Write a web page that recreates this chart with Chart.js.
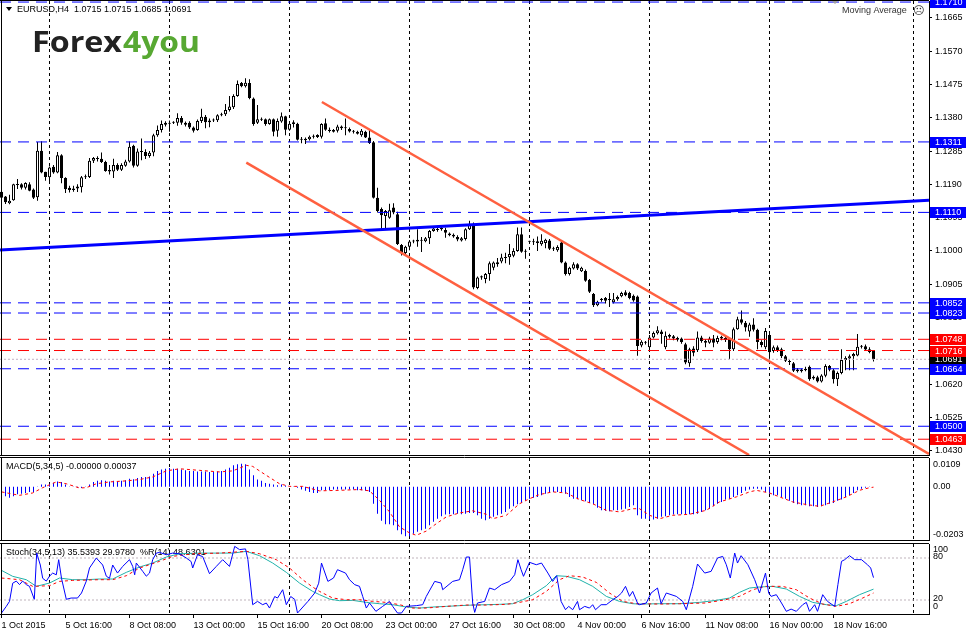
<!DOCTYPE html>
<html><head><meta charset="utf-8"><title>EURUSD,H4</title>
<script src="https://cdn.jsdelivr.net/npm/chart.js@4.4.1/dist/chart.umd.min.js"></script>
<style>
html,body{margin:0;padding:0;background:#fff;}
body{width:966px;height:631px;overflow:hidden;position:relative;}
.pane{position:absolute;left:0;width:966px;}
</style></head><body>
<div class="pane" style="top:0;height:456px"><canvas id="cMain"></canvas></div>
<div class="pane" style="top:456px;height:86px"><canvas id="cMacd"></canvas></div>
<div class="pane" style="top:542px;height:89px"><canvas id="cStoch"></canvas></div>
<script>
// ---------------- DATA ----------------
const symbolTitle = 'EURUSD,H4';
const open = [1.1169,1.1155,1.1136,1.1145,1.1190,1.1190,1.1180,1.1190,1.1175,1.1153,
1.1286,1.1226,1.1210,1.1240,1.1224,1.1273,1.1208,1.1180,1.1174,1.1178,
1.1182,1.1210,1.1211,1.1257,1.1265,1.1263,1.1254,1.1231,1.1227,1.1245,
1.1232,1.1243,1.1255,1.1300,1.1243,1.1284,1.1282,1.1271,1.1281,1.1330,
1.1345,1.1360,1.1363,1.1366,1.1366,1.1379,1.1366,1.1366,1.1352,1.1345,
1.1371,1.1383,1.1367,1.1372,1.1373,1.1387,1.1390,1.1402,1.1410,1.1442,
1.1479,1.1470,1.1479,1.1435,1.1366,1.1376,1.1376,1.1362,1.1376,1.1343,
1.1369,1.1384,1.1346,1.1367,1.1363,1.1317,1.1320,1.1319,1.1326,1.1325,
1.1326,1.1364,1.1346,1.1340,1.1343,1.1355,1.1350,1.1348,1.1341,1.1340,
1.1330,1.1340,1.1324,1.1310,1.1152,1.1120,1.1100,1.1095,1.1124,1.1105,
1.1017,1.0994,1.1012,1.1027,1.1027,1.1031,1.1028,1.1036,1.1057,1.1060,
1.1062,1.1060,1.1050,1.1046,1.1040,1.1030,1.1034,1.1062,1.1074,1.0894,
1.0924,1.0920,1.0934,1.0952,1.0962,1.0970,1.0980,1.0982,1.0986,1.1000,
1.1048,1.0998,1.1026,1.1027,1.1028,1.1019,1.1023,1.1030,1.1008,1.1002,
1.1024,1.0967,1.0934,1.0950,1.0962,1.0942,1.0943,1.0917,1.0877,1.0845,
1.0864,1.0866,1.0860,1.0854,1.0862,1.0871,1.0882,1.0880,1.0872,1.0870,
1.0730,1.0740,1.0725,1.0753,1.0765,1.0770,1.0725,1.0760,1.0757,1.0752,
1.0750,1.0734,1.0680,1.0722,1.0717,1.0753,1.0743,1.0738,1.0750,1.0740,
1.0755,1.0752,1.0748,1.0720,1.0777,1.0805,1.0795,1.0770,1.0790,1.0775,
1.0740,1.0725,1.0760,1.0715,1.0725,1.0720,1.0700,1.0685,1.0680,1.0662,
1.0657,1.0660,1.0670,1.0636,1.0640,1.0628,1.0644,1.0672,1.0660,1.0634,
1.0652,1.0689,1.0693,1.0700,1.0702,1.0727,1.0728,1.0720,1.0715];
const high = [1.1175,1.1157,1.1160,1.1192,1.1205,1.1193,1.1196,1.1196,1.1178,1.1311,
1.1313,1.1226,1.1241,1.1245,1.1282,1.1276,1.1210,1.1186,1.1186,1.1190,
1.1214,1.1218,1.1265,1.1268,1.1270,1.1281,1.1257,1.1245,1.1263,1.1250,
1.1250,1.1260,1.1312,1.1303,1.1292,1.1321,1.1290,1.1285,1.1334,1.1358,
1.1372,1.1370,1.1372,1.1370,1.1393,1.1385,1.1369,1.1370,1.1355,1.1375,
1.1406,1.1388,1.1378,1.1378,1.1390,1.1394,1.1419,1.1442,1.1447,1.1486,
1.1482,1.1493,1.1490,1.1438,1.1416,1.1381,1.1378,1.1378,1.1378,1.1378,
1.1395,1.1386,1.1368,1.1373,1.1366,1.1325,1.1324,1.1329,1.1332,1.1333,
1.1364,1.1378,1.1352,1.1348,1.1360,1.1358,1.1378,1.1352,1.1345,1.1343,
1.1348,1.1343,1.1345,1.1314,1.1180,1.1124,1.1117,1.1135,1.1136,1.1112,
1.1020,1.1015,1.1031,1.1032,1.1062,1.1040,1.1040,1.1060,1.1066,1.1066,
1.1070,1.1066,1.1053,1.1050,1.1045,1.1040,1.1065,1.1086,1.1081,1.0927,
1.0930,1.0937,1.0970,1.0970,1.0980,1.0992,1.0995,1.1020,1.1008,1.1067,
1.1067,1.1005,1.1029,1.1035,1.1041,1.1048,1.1035,1.1034,1.1012,1.1016,
1.1030,1.0970,1.0955,1.0968,1.0965,1.0955,1.0947,1.0920,1.0880,1.0858,
1.0866,1.0869,1.0880,1.0880,1.0873,1.0884,1.0888,1.0884,1.0876,1.0873,
1.0745,1.0743,1.0760,1.0770,1.0785,1.0775,1.0770,1.0764,1.0760,1.0755,
1.0753,1.0738,1.0724,1.0728,1.0770,1.0758,1.0748,1.0755,1.0760,1.0758,
1.0758,1.0756,1.0750,1.0782,1.0812,1.0830,1.0800,1.0795,1.0808,1.0778,
1.0745,1.0780,1.0765,1.0730,1.0730,1.0724,1.0703,1.0690,1.0683,1.0666,
1.0665,1.0670,1.0673,1.0645,1.0644,1.0648,1.0677,1.0675,1.0663,1.0656,
1.0720,1.0700,1.0705,1.0710,1.0763,1.0732,1.0733,1.0725,1.0715];
const low = [1.1149,1.1134,1.1133,1.1143,1.1177,1.1175,1.1175,1.1170,1.1148,1.1143,
1.1222,1.1200,1.1193,1.1220,1.1222,1.1193,1.1165,1.1167,1.1169,1.1168,
1.1167,1.1205,1.1208,1.1251,1.1255,1.1251,1.1226,1.1218,1.1208,1.1228,
1.1228,1.1240,1.1252,1.1238,1.1240,1.1259,1.1262,1.1266,1.1270,1.1326,
1.1338,1.1355,1.1340,1.1362,1.1357,1.1360,1.1355,1.1348,1.1338,1.1343,
1.1365,1.1350,1.1353,1.1368,1.1368,1.1384,1.1385,1.1398,1.1405,1.1440,
1.1467,1.1466,1.1433,1.1357,1.1362,1.1371,1.1357,1.1360,1.1327,1.1326,
1.1366,1.1330,1.1343,1.1352,1.1315,1.1307,1.1305,1.1315,1.1321,1.1322,
1.1321,1.1343,1.1338,1.1338,1.1338,1.1345,1.1330,1.1338,1.1335,1.1332,
1.1326,1.1322,1.1305,1.1150,1.1110,1.1060,1.1063,1.1092,1.1105,1.1017,
1.0987,1.0990,1.1002,1.1022,1.1012,1.0997,1.1025,1.1020,1.1055,1.1055,
1.1058,1.1038,1.1042,1.1038,1.1028,1.1027,1.1030,1.1060,1.0891,1.0891,
1.0918,1.0908,1.0915,1.0945,1.0955,1.0965,1.0965,1.0961,1.0982,1.0998,
1.0995,1.0978,1.1020,1.1017,1.1000,1.1015,1.1008,1.1003,1.1000,1.0998,
1.0965,1.0930,1.0930,1.0947,1.0946,1.0940,1.0912,1.0880,1.0840,1.0842,
1.0855,1.0850,1.0840,1.0850,1.0858,1.0868,1.0871,1.0862,1.0855,1.0701,
1.0725,1.0733,1.0720,1.0750,1.0762,1.0735,1.0720,1.0750,1.0745,1.0742,
1.0735,1.0677,1.0670,1.0700,1.0712,1.0738,1.0725,1.0735,1.0725,1.0735,
1.0745,1.0740,1.0692,1.0715,1.0775,1.0790,1.0770,1.0755,1.0770,1.0720,
1.0725,1.0720,1.0690,1.0710,1.0712,1.0695,1.0683,1.0675,1.0655,1.0653,
1.0653,1.0657,1.0630,1.0633,1.0625,1.0625,1.0640,1.0657,1.0622,1.0615,
1.0648,1.0660,1.0660,1.0660,1.0700,1.0722,1.0715,1.0708,1.0685];
const close = [1.1152,1.1139,1.1143,1.1190,1.1188,1.1180,1.1194,1.1172,1.1152,1.1286,
1.1224,1.1211,1.1238,1.1224,1.1273,1.1208,1.1176,1.1174,1.1178,1.1184,
1.1210,1.1213,1.1257,1.1265,1.1262,1.1254,1.1228,1.1227,1.1245,1.1232,
1.1245,1.1255,1.1297,1.1243,1.1284,1.1282,1.1271,1.1280,1.1330,1.1345,
1.1362,1.1366,1.1366,1.1367,1.1379,1.1366,1.1360,1.1352,1.1343,1.1371,
1.1383,1.1367,1.1372,1.1375,1.1387,1.1390,1.1402,1.1412,1.1442,1.1476,
1.1470,1.1480,1.1436,1.1362,1.1376,1.1374,1.1362,1.1376,1.1340,1.1371,
1.1384,1.1346,1.1363,1.1362,1.1317,1.1319,1.1316,1.1326,1.1327,1.1331,
1.1362,1.1346,1.1342,1.1345,1.1355,1.1350,1.1351,1.1341,1.1340,1.1334,
1.1343,1.1324,1.1308,1.1152,1.1114,1.1102,1.1114,1.1116,1.1110,1.1020,
1.0994,1.1012,1.1027,1.1029,1.1032,1.1029,1.1036,1.1057,1.1064,1.1063,
1.1066,1.1052,1.1045,1.1041,1.1033,1.1036,1.1062,1.1074,1.0896,1.0924,
1.0928,1.0934,1.0965,1.0967,1.0968,1.0981,1.0983,1.0991,1.1000,1.1048,
1.0998,1.1000,1.1027,1.1025,1.1023,1.1029,1.1032,1.1006,1.1005,1.1011,
1.0967,1.0934,1.0952,1.0962,1.0950,1.0952,1.0915,1.0884,1.0845,1.0855,
1.0860,1.0858,1.0861,1.0862,1.0869,1.0880,1.0874,1.0866,1.0859,1.0729,
1.0741,1.0738,1.0753,1.0766,1.0774,1.0763,1.0758,1.0755,1.0750,1.0747,
1.0740,1.0682,1.0720,1.0710,1.0753,1.0743,1.0738,1.0750,1.0738,1.0752,
1.0750,1.0746,1.0720,1.0777,1.0805,1.0795,1.0782,1.0790,1.0775,1.0740,
1.0732,1.0772,1.0711,1.0725,1.0716,1.0700,1.0687,1.0683,1.0658,1.0657,
1.0662,1.0664,1.0634,1.0641,1.0628,1.0645,1.0672,1.0661,1.0634,1.0652,
1.0689,1.0695,1.0700,1.0706,1.0727,1.0728,1.0719,1.0712,1.0691];

const macdHist = [-0.0029,-0.0037,-0.0042,-0.0037,-0.0029,-0.0027,-0.0024,-0.0020,-0.0020,0.0001,
0.0008,0.0008,0.0011,0.0015,0.0020,0.0018,0.0008,0.0001,-0.0001,-0.0004,
-0.0005,-0.0001,0.0008,0.0018,0.0022,0.0024,0.0022,0.0020,0.0022,0.0020,
0.0022,0.0024,0.0030,0.0028,0.0033,0.0037,0.0037,0.0039,0.0049,0.0060,
0.0065,0.0068,0.0071,0.0068,0.0068,0.0065,0.0062,0.0060,0.0060,0.0058,
0.0058,0.0058,0.0056,0.0056,0.0058,0.0060,0.0065,0.0072,0.0081,0.0085,
0.0087,0.0085,0.0065,0.0043,0.0027,0.0022,0.0014,0.0011,0.0008,0.0005,
0.0008,0.0004,0.0001,-0.0001,-0.0004,-0.0011,-0.0016,-0.0020,-0.0024,-0.0024,
-0.0014,-0.0014,-0.0014,-0.0011,-0.0011,-0.0011,-0.0011,-0.0011,-0.0011,-0.0014,
-0.0014,-0.0016,-0.0020,-0.0065,-0.0103,-0.0130,-0.0143,-0.0143,-0.0147,-0.0166,
-0.0181,-0.0189,-0.0189,-0.0179,-0.0172,-0.0166,-0.0160,-0.0147,-0.0134,-0.0122,
-0.0113,-0.0106,-0.0105,-0.0105,-0.0103,-0.0105,-0.0103,-0.0100,-0.0100,-0.0109,
-0.0122,-0.0128,-0.0122,-0.0115,-0.0109,-0.0103,-0.0096,-0.0084,-0.0075,-0.0067,
-0.0062,-0.0054,-0.0046,-0.0042,-0.0039,-0.0033,-0.0027,-0.0020,-0.0020,-0.0020,
-0.0020,-0.0027,-0.0039,-0.0046,-0.0048,-0.0052,-0.0056,-0.0062,-0.0067,-0.0080,
-0.0090,-0.0092,-0.0094,-0.0090,-0.0090,-0.0087,-0.0084,-0.0077,-0.0071,-0.0109,
-0.0122,-0.0122,-0.0125,-0.0125,-0.0122,-0.0115,-0.0113,-0.0109,-0.0106,-0.0105,
-0.0105,-0.0105,-0.0105,-0.0105,-0.0103,-0.0096,-0.0090,-0.0084,-0.0075,-0.0065,
-0.0058,-0.0049,-0.0046,-0.0039,-0.0033,-0.0024,-0.0016,-0.0011,-0.0008,-0.0008,
-0.0011,-0.0020,-0.0027,-0.0033,-0.0033,-0.0039,-0.0046,-0.0054,-0.0062,-0.0067,
-0.0071,-0.0071,-0.0075,-0.0075,-0.0077,-0.0075,-0.0071,-0.0065,-0.0062,-0.0054,
-0.0049,-0.0039,-0.0033,-0.0024,-0.0014,-0.0008,-0.0004,-0.0001,0.0000];

const macdSignal = [[0,-0.0020],[4.5,-0.0033],[7.8,-0.0024],[10.3,-0.0004],[13.7,0.0018],[16.2,0.0011],[19.5,-0.0005],[21.2,-0.0004],[23.7,0.0011],[27,0.0018],[31.2,0.0022],[34.5,0.0027],[37.8,0.0037],[41.2,0.0060],[44.5,0.0068],[49.5,0.0062],[54.5,0.0056],[57.8,0.0060],[61.2,0.0081],[62.8,0.0077],[66.2,0.0043],[69.5,0.0011],[72,0.0001],[75.3,0.0001],[79.5,-0.0016],[84.5,-0.0014],[89.5,-0.0011],[92,-0.0016],[94.5,-0.0052],[97,-0.0096],[99.5,-0.0153],[102,-0.0176],[103.7,-0.0185],[106.2,-0.0169],[108.7,-0.0141],[111.2,-0.0115],[114.5,-0.0100],[117.8,-0.0092],[121.2,-0.0105],[122.8,-0.0122],[126.2,-0.0109],[129.5,-0.0065],[132,-0.0046],[134.5,-0.0030],[137.8,-0.0020],[141.2,-0.0024],[144.5,-0.0049],[147.8,-0.0065],[151.2,-0.0090],[154.5,-0.0096],[157.8,-0.0084],[159.5,-0.0084],[162,-0.0109],[164.5,-0.0122],[167.8,-0.0109],[172,-0.0105],[176.2,-0.0090],[179.5,-0.0058],[183.7,-0.0039],[187,-0.0020],[188.7,-0.0014],[192,-0.0024],[194.5,-0.0039],[197.8,-0.0058],[201.2,-0.0068],[204.5,-0.0075],[207.8,-0.0058],[211.2,-0.0039],[214.5,-0.0014],[217,-0.0004],[218,-0.0002]];

const stochMain = [[0,62.3],[2.8,53.8],[6.2,49],[8.7,39.5],[12,44.2],[14.5,51.4],[17.8,49],[21.2,49],[24.5,50],[27.8,50],[31.2,59.5],[34.5,67.1],[37.8,72.8],[41.2,81.4],[44.5,86.1],[49.5,87],[54.5,87],[57.8,87],[61.2,89.5],[64.5,83.3],[67.8,72.8],[71.2,59.5],[74.5,44.2],[77.8,32.3],[79.5,27.6],[82,21.4],[84.5,19],[87.8,19.5],[91.2,16.6],[94.5,14.7],[97.8,13.3],[101.2,10],[104.5,8.5],[107.8,10],[111.2,10.9],[114.5,11.9],[117.8,12.8],[121.2,13.3],[124.5,13.8],[127.8,14.7],[130.3,20.4],[132.8,27.6],[136.2,40.4],[138.7,54.7],[141.2,53.8],[144.5,49],[147.8,39.5],[151.2,25.2],[154.5,18],[157.8,14.7],[159.5,14.2],[164.5,14.7],[169.5,14.7],[174.5,16.6],[178.7,19.5],[182,22.8],[184.5,30.9],[187,37.1],[189.5,38.6],[192.8,39.5],[196.2,35.7],[199.5,25.2],[202.8,16.6],[206.2,13.3],[208.7,11.9],[211.2,18],[214.5,27.6],[218,35.5]];

const stochSignal = [[0,51.4],[4.5,49],[7.8,39.5],[12,40.4],[14.5,46.6],[17.8,48],[24.5,49],[27.8,49],[31.2,54.7],[34.5,65.7],[39.5,75.2],[42.8,82.3],[47.8,86.1],[54.5,87],[61.2,89.5],[64.5,86.1],[68.7,77.6],[72,65.7],[75.3,49],[77.8,38.5],[79.5,32.3],[82.8,22.8],[86.2,20.4],[89.5,20.4],[92.8,18],[96.2,16.6],[99.5,13.3],[102.8,8.5],[106.2,8.5],[111.2,10.9],[116.2,12.8],[121.2,12.8],[126.2,13.8],[129.5,16.6],[132.8,20.4],[136.2,32.3],[139.5,49],[142,54.7],[145.3,52.8],[148.7,45.2],[152,30],[155.3,18],[158.7,14.7],[164.5,14.2],[169.5,14.7],[176,15.7],[181,20.4],[184.5,25.2],[187.8,34.7],[191,39.5],[195.2,39.5],[198.7,34.7],[202,22.8],[205.3,14.2],[208.7,10.9],[212,14.7],[215.3,22.8],[218,30]];

const williamsR = [[0,1.4],[1.2,10.9],[2,18],[2.8,44],[3.7,47],[4.5,42],[5.3,47],[6.2,42],[7,39.5],[8.2,21],[8.8,87],[9.7,70],[10.3,51],[11.2,47],[12,54],[12.8,58.5],[13.7,56],[14.3,77.6],[15,51],[16.2,21],[17.4,22.8],[19,22.8],[20,30],[21.2,47],[22,65.7],[23.7,80],[25.3,70],[26.2,54],[27,51],[27.8,70],[29,58.5],[30.3,68],[32,77.6],[32.8,68],[33.3,56],[33.7,72.8],[35.3,61],[36.2,54],[37,58.5],[37.8,77.6],[38.7,87],[39.5,88],[41.2,84.7],[42.8,87],[44.5,86],[46.2,80],[47.4,75],[47.8,65.7],[49,84.7],[50.3,82],[52,57.6],[53.7,68],[55.3,77.6],[57,68],[58.3,96.6],[59.5,92],[61,93],[61.6,77.6],[62.8,13.3],[64,18],[65.3,13.3],[66.2,15.7],[67,8.5],[68.3,25],[69,22.8],[70.3,34.7],[71.2,13.3],[72.3,25],[73.3,21],[74,1.4],[76.6,18],[78.3,30],[79.3,44],
[80,72.8],[81.6,46.6],[83,51.4],[84,63.3],[86,58.5],[87,49],[88.3,41.9],[89.5,39.5],[90.3,25.2],[91.2,8.5],[92,15.7],[93.6,3.8],[95.3,10.9],[97,18],[97.8,10.9],[99,1.4],[100,1.4],[101.2,10.9],[103.7,11.9],[105.3,13.3],[106.2,25.2],[108.3,46.6],[109.9,44.2],[110.3,34.7],[112.8,46.6],[114.5,49],[115.3,63.3],[116.2,81.4],[117,81.4],[117.8,15.7],[118.3,2.3],[119,15.7],[120.8,18],[122,37.1],[123.3,34.7],[125,41.9],[127,46.6],[128.3,56.1],[129.1,77.6],[129.9,63.3],[130.5,53.8],[132,73.8],[133.7,70.4],[135,72.8],[136.6,58.5],[137.8,46.6],[138.8,54.7],[139.9,18],[141,6.1],[141.8,10.9],[142.8,6.1],[144,18],[144.5,6.1],[145.8,10.9],[147,8.5],[147.8,13.3],[148.5,6.1],[149.9,13.3],[151.2,13.3],[152.8,20.4],[154.1,25.2],[155,30],[156,39.5],[157,25.2],[157.8,32.3],[159.1,14.2],[159.5,13.3],[161.2,15.7],[162.4,30],[164,37.1],[164.9,14.7],[166.2,30],[168.7,25.2],[170.3,18],[171.2,6.1],[172.8,39.5],[174,71.4],[175.8,58.5],[177.4,60.9],[179,80],[180.3,82.3],[181.2,70.4],[182.2,51.4],[183.3,87.1],[184,72.8],[184.9,83.3],[186.6,70.4],[188.3,49],[189.5,30],[191,58.5],[191.8,30],[192.4,25.2],[193.7,27.6],[195,15.7],[196.2,3.8],[197.4,7],[198.7,3.8],[200.3,13.3],[201.2,16.6],[202,3.8],[203.3,13.3],[204,3.8],[205.3,27.6],[206.5,18],[208.3,10.9],[209.1,41.9],[210,75.2],[210.8,77.6],[212,83.3],[213.3,77.6],[215,77.6],[216.5,70.4],[217.3,65.7],[218,52]];

const stochLevels = [20, 80];
const priceTicks = [1.0430,1.0525,1.0620,1.0715,1.0810,1.0905,1.1000,1.1095,1.1190,1.1285,1.1380,1.1475,1.1570,1.1665];
const levelPrices = [1.1710,1.1311,1.1110,1.0852,1.0823,1.0748,1.0716,1.0664,1.0500,1.0463];
const levelKinds  = ['blue','blue','blue','blue','blue','red','red','blue','blue','red'];
const bidPrice = 1.0691;
const trendBlue    = [[-0.375,1.1003],[231.875,1.1145]];
const channelUpper = [[80.1,1.1425],[231.875,1.0421]];
const channelLower = [[61.2,1.1252],[186.9,1.0418]];
const labelBars  = [0,16,32,48,64,80,96,112,128,144,160,176,192,208];
const labelTexts = ['1 Oct 2015','5 Oct 16:00','8 Oct 08:00','13 Oct 00:00','15 Oct 16:00','20 Oct 08:00','23 Oct 00:00','27 Oct 16:00','30 Oct 08:00','4 Nov 00:00','6 Nov 16:00','11 Nov 08:00','16 Nov 00:00','18 Nov 16:00'];
const gridBars = [12,42,72,102,132,162,192,228];
const macdTitle = 'MACD(5,34,5) -0.00000 0.00037';
const stochTitle = 'Stoch(34,5,13) 35.5393 29.9780  %R(14) 48.6301';

// ---------------- SETUP ----------------
const X_MIN = -0.375, X_MAX = 231.875, AXIS_W = 37;
const Y_MIN = 1.0418, Y_MAX = 1.1713;
const FAM = '"Liberation Sans", Arial, sans-serif';
const FONT = '9px ' + FAM;
Chart.defaults.animation = false;
Chart.defaults.font.family = FAM;
Chart.defaults.font.size = 9;
Chart.defaults.color = '#000';
Chart.defaults.plugins.legend.display = false;
Chart.defaults.plugins.tooltip.enabled = false;

const BLUE = '#0000ff', RED = '#ff0000';
const idx = close.map((_, i) => i);
const pts = arr => arr.map(p => ({x: p[0], y: p[1]}));

function yFit(s){ s.width = AXIS_W; s.paddingTop = 0; s.paddingBottom = 0; }
const hiddenX = {type:'linear', min:X_MIN, max:X_MAX, offset:false, display:false};

const vGrid = {
  id:'vGrid',
  beforeDatasetsDraw(chart){
    const {ctx, chartArea:a} = chart, x = chart.scales.x;
    ctx.save(); ctx.strokeStyle='#000'; ctx.lineWidth=1; ctx.setLineDash([3,3]);
    for (const b of gridBars){
      const px = x.getPixelForValue(b);
      ctx.beginPath(); ctx.moveTo(px, a.top); ctx.lineTo(px, a.bottom); ctx.stroke();
    }
    ctx.restore();
  }
};
const frame = {
  id:'frame',
  afterDraw(chart, args, opts){
    const {ctx, chartArea:a} = chart;
    ctx.save(); ctx.strokeStyle='#000'; ctx.lineWidth=1; ctx.setLineDash([]);
    ctx.beginPath();
    ctx.moveTo(a.left+1.5, a.top-1); ctx.lineTo(a.left+1.5, a.bottom+1);
    ctx.moveTo(a.left, a.top-0.5); ctx.lineTo(a.right, a.top-0.5);
    if (opts.bottom){ ctx.moveTo(a.left, a.bottom+0.5); ctx.lineTo(a.right, a.bottom+0.5); }
    ctx.stroke(); ctx.restore();
  }
};

function hLine(price, color, dash, order){
  return {type:'line', data:[{x:X_MIN,y:price},{x:X_MAX,y:price}], borderColor:color, borderWidth:1,
    borderDash:dash, pointRadius:0, fill:false, order:order};
}
function segLine(arr, color, width, order){
  return {type:'line', data:pts(arr), borderColor:color, borderWidth:width, pointRadius:0, fill:false, tension:0, order:order};
}

// ---------------- MAIN CHART ----------------
const mainOverlay = {
  id:'mainOverlay',
  afterDraw(chart){
    const {ctx} = chart, y = chart.scales.y, a = chart.chartArea;
    ctx.save();
    // header
    ctx.fillStyle='#000';
    ctx.beginPath(); ctx.moveTo(6,7); ctx.lineTo(12,7); ctx.lineTo(9,11); ctx.closePath(); ctx.fill();
    ctx.font = FONT; ctx.textBaseline='middle'; ctx.textAlign='left';
    const n = close.length - 1;
    ctx.fillText(symbolTitle + '  ' + [open[n],high[n],low[n],close[n]].map(v=>v.toFixed(4)).join(' '), 17, 9.5);
    // indicator name
    ctx.fillStyle='#333';
    ctx.fillText('Moving Average', 842, 11);
    ctx.font = '11px "DejaVu Sans"';
    ctx.fillText('\u2639', 913, 11);
    ctx.fillStyle='#a0a0a0';
    ctx.beginPath(); ctx.moveTo(832,1); ctx.lineTo(838,1); ctx.lineTo(835,4); ctx.closePath(); ctx.fill();
    // logo
    const drawFit = (txt, x0, w, color) => {
      ctx.font = 'bold 29px "Open Sans"';
      const m = ctx.measureText(txt).width;
      ctx.save(); ctx.translate(x0, 52); ctx.scale(w/m, 1);
      ctx.fillStyle = color; ctx.textBaseline='alphabetic'; ctx.fillText(txt, 0, 0); ctx.restore();
    };
    drawFit('Forex', 32, 90, '#222222');
    drawFit('4you', 123, 77, '#57a832');
    // price tags
    ctx.font = FONT; ctx.textBaseline='middle';
    const tag = (p, bg) => {
      const py = Math.round(y.getPixelForValue(p));
      ctx.fillStyle = bg; ctx.fillRect(a.right+1, py-5, AXIS_W, 11);
      ctx.fillStyle = '#fff'; ctx.fillText(p.toFixed(4), a.right+6, py+0.5);
    };
    tag(bidPrice, '#000');
    levelPrices.forEach((p,i) => tag(p, levelKinds[i]==='red' ? RED : BLUE));
    ctx.restore();
  }
};

const mainDatasets = [
  {type:'bar', label:'wick', data: idx.map(i => ({x:i, y:[low[i], high[i]]})), barThickness:1,
   backgroundColor:'#000', borderWidth:0, inflateAmount:0, minBarLength:1, grouped:false, order:21},
  {type:'bar', label:'body', data: idx.map(i => ({x:i, y:[open[i], close[i]]})), barThickness:3,
   backgroundColor: idx.map(i => close[i] >= open[i] ? '#ffffff' : '#000000'),
   borderColor:'#000', borderWidth:1, borderSkipped:false, inflateAmount:0, minBarLength:1, grouped:false, order:20},
  hLine(bidPrice, '#c4aec4', [2,2], 9)
];
levelPrices.forEach((p,i) => mainDatasets.push(hLine(p, levelKinds[i]==='red' ? RED : BLUE, [11,7], 8)));
mainDatasets.push(segLine(trendBlue, BLUE, 3, 3));
mainDatasets.push(segLine(channelUpper, '#ff6040', 2.5, 2));
mainDatasets.push(segLine(channelLower, '#ff6040', 2.5, 2));

new Chart(document.getElementById('cMain'), {
  type:'bar',
  data:{datasets: mainDatasets},
  options:{
    responsive:true, maintainAspectRatio:false,
    layout:{padding:{top:1,bottom:1,left:0,right:0}},
    scales:{
      x: hiddenX,
      y: {type:'linear', position:'right', min:Y_MIN, max:Y_MAX, beginAtZero:false,
        afterBuildTicks(s){ s.ticks = priceTicks.map(v => ({value:v})); },
        afterFit: yFit,
        ticks:{display:true, padding:3, color:'#000', font:{size:9}, autoSkip:false, callback:v => Number(v).toFixed(4)},
        grid:{display:true, drawOnChartArea:false, drawTicks:true, tickLength:3, color:'#000'},
        border:{display:true, color:'#000'}}
    },
    plugins:{frame:{bottom:true}}
  },
  plugins:[vGrid, frame, mainOverlay]
});

// ---------------- MACD ----------------
const MACD_MIN = -0.0203, MACD_MAX = 0.0109;
const macdOverlay = {
  id:'macdOverlay',
  afterDraw(chart){
    const {ctx, chartArea:a} = chart, y = chart.scales.y;
    ctx.save(); ctx.font = FONT; ctx.textBaseline='middle'; ctx.fillStyle='#000';
    ctx.fillText(macdTitle, 6, a.top + 8.5);
    ctx.fillText(MACD_MAX.toFixed(4), a.right+4, y.getPixelForValue(MACD_MAX)+7);
    ctx.fillText('0.00', a.right+4, y.getPixelForValue(0));
    ctx.fillText(MACD_MIN.toFixed(4), a.right+4, y.getPixelForValue(MACD_MIN)-5);
    ctx.restore();
  }
};
new Chart(document.getElementById('cMacd'), {
  type:'bar',
  data:{datasets:[
    {type:'bar', data: macdHist.map((v,i) => ({x:i, y:v})), barThickness:1, backgroundColor:BLUE,
     borderWidth:0, inflateAmount:0, grouped:false, order:5},
    {type:'line', data: pts(macdSignal), borderColor:RED, borderWidth:1, borderDash:[3,3], pointRadius:0, fill:false, order:1}
  ]},
  options:{
    responsive:true, maintainAspectRatio:false,
    layout:{padding:{top:2,bottom:2,left:0,right:0}},
    scales:{
      x: hiddenX,
      y: {type:'linear', position:'right', min:MACD_MIN, max:MACD_MAX, afterFit:yFit,
          ticks:{display:false}, grid:{display:false}, border:{display:true,color:'#000'}}
    },
    plugins:{frame:{bottom:true}}
  },
  plugins:[vGrid, frame, macdOverlay]
});

// ---------------- STOCH ----------------
const stochOverlay = {
  id:'stochOverlay',
  beforeDatasetsDraw(chart){
    const {ctx, chartArea:a} = chart;
    ctx.save(); ctx.font = FONT; ctx.textBaseline='middle'; ctx.fillStyle='#000';
    ctx.fillText(stochTitle, 6, a.top + 8.5);
    ctx.restore();
  },
  afterDraw(chart){
    const {ctx, chartArea:a} = chart, y = chart.scales.y;
    ctx.save(); ctx.font = FONT; ctx.textBaseline='middle'; ctx.fillStyle='#000';
    ctx.fillText('100', a.right+4, y.getPixelForValue(100)+6);
    ctx.fillText('80', a.right+4, y.getPixelForValue(80)-1);
    ctx.fillText('20', a.right+4, y.getPixelForValue(20)-1);
    ctx.fillText('0', a.right+4, y.getPixelForValue(0)-7);
    ctx.restore();
  }
};
const stochSets = stochLevels.map(v => hLine(v, '#c0b4bc', [2,2], 9));
stochSets.push({type:'line', data:pts(stochMain), borderColor:'#20b2aa', borderWidth:1, pointRadius:0, fill:false, tension:0, order:4});
stochSets.push({type:'line', data:pts(stochSignal), borderColor:RED, borderWidth:1, borderDash:[3,3], pointRadius:0, fill:false, tension:0, order:3});
stochSets.push({type:'line', data:pts(williamsR), borderColor:BLUE, borderWidth:1, pointRadius:0, fill:false, tension:0, order:2});

new Chart(document.getElementById('cStoch'), {
  type:'line',
  data:{datasets: stochSets},
  options:{
    responsive:true, maintainAspectRatio:false,
    layout:{padding:{top:2,bottom:0,left:0,right:0}},
    scales:{
      x:{type:'linear', position:'bottom', min:X_MIN, max:X_MAX, offset:false,
        afterBuildTicks(s){ s.ticks = labelBars.map(v => ({value:v})); },
        afterFit(s){ s.height = 17; s.paddingLeft = 0; s.paddingRight = 0; },
        ticks:{autoSkip:false, maxRotation:0, minRotation:0, align:'start', padding:2, color:'#000', font:{size:9},
               callback:(v, i) => labelTexts[i]},
        grid:{display:true, drawOnChartArea:false, drawTicks:true, tickLength:4, color:'#000'},
        border:{display:true, color:'#000'}},
      y:{type:'linear', position:'right', min:0, max:100, afterFit:yFit,
         ticks:{display:false}, grid:{display:false}, border:{display:true,color:'#000'}}
    },
    plugins:{frame:{bottom:false}}
  },
  plugins:[vGrid, frame, stochOverlay]
});
</script>
</body></html>
